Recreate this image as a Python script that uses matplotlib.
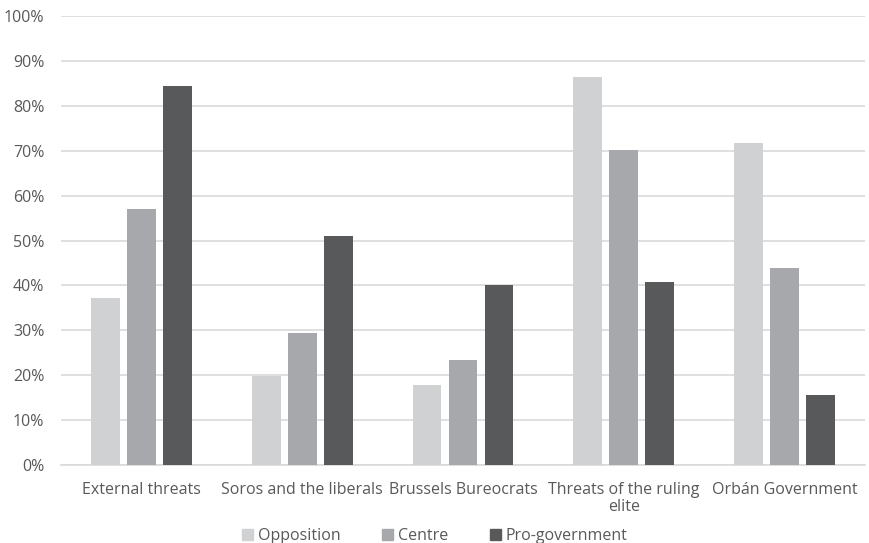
import matplotlib.pyplot as plt
import numpy as np
from matplotlib.patches import Patch

plt.rcParams['font.family'] = ['Open Sans', 'DejaVu Sans']

categories = ["External threats", "Soros and the liberals", "Brussels Bureocrats",
              "Threats of the ruling\nelite", "Orbán Government"]
series_names = ["Opposition", "Centre", "Pro-government"]
opposition = [37.1, 19.9, 17.9, 86.4, 71.7]
centre = [57.0, 29.3, 23.3, 70.2, 43.9]
pro_government = [84.4, 51.1, 40.2, 40.8, 15.5]
colors = ["#D0D1D3", "#A7A8AB", "#58595B"]

text_color = "#595959"

fig = plt.figure(figsize=(8.69, 5.43), dpi=100)
ax = fig.add_axes([0.0702, 0.1436, 0.9252, 0.8269])

x = np.arange(len(categories))
width = 0.18
step = 0.224
for i, (vals, name, c) in enumerate(zip([opposition, centre, pro_government], series_names, colors)):
    ax.bar(x + (i - 1) * step, vals, width=width, color=c, label=name, zorder=3)

ax.set_xlim(-0.5, len(categories) - 0.5)
ax.set_ylim(0, 100)
ax.set_yticks(range(0, 101, 10))
ax.set_yticklabels([f"{v}%" for v in range(0, 101, 10)])
ax.set_xticks(x)
ax.set_xticklabels(categories, linespacing=1.1)
ax.grid(axis='y', color="#D9D9D9", linewidth=1.2, zorder=0)
for s in ['top', 'right', 'left']:
    ax.spines[s].set_visible(False)
ax.spines['bottom'].set_color("#D9D9D9")
ax.spines['bottom'].set_linewidth(1.2)
ax.tick_params(axis='both', length=0, labelsize=11.5, colors=text_color)
ax.tick_params(axis='x', pad=12)
ax.tick_params(axis='y', pad=12)

handles = [Patch(color=c) for c in colors]
fig.legend(handles, series_names, loc='lower center', ncol=3, frameon=False,
           bbox_to_anchor=(0.5, -0.028), fontsize=11.5, handlelength=0.7, handleheight=0.7,
           handletextpad=0.3, columnspacing=2.6, labelcolor=text_color)

plt.savefig('out.png', dpi=100)
